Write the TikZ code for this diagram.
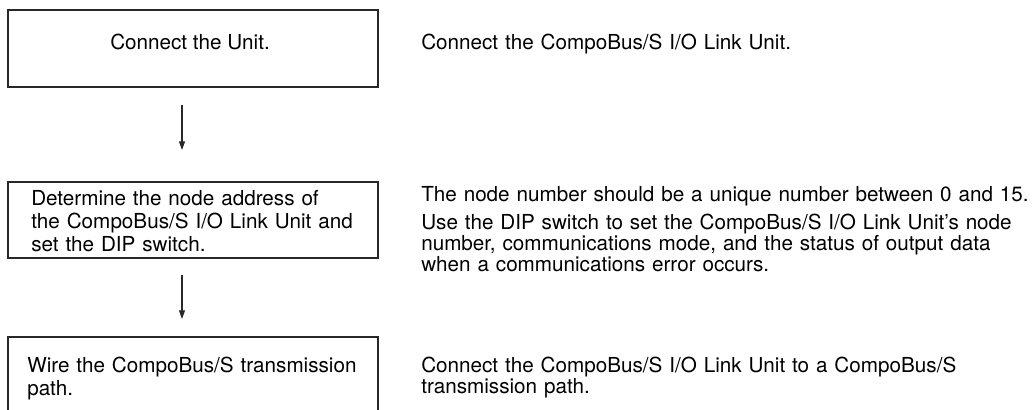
\documentclass[tikz,border=0pt]{standalone}
\usepackage{fontspec}
\setmainfont{TeX Gyre Heros}
\usetikzlibrary{arrows.meta}
\definecolor{edge}{RGB}{40,40,40}

\begin{document}
\begin{tikzpicture}[x=0.75pt,y=-0.75pt,
    box/.style={draw=edge,line width=0.8pt,anchor=north west,outer sep=0pt,inner sep=0pt,minimum width=277.5pt},
    txt/.style={anchor=base west,inner sep=0pt,align=left,font=\fontsize{15.5pt}{17.6pt}\selectfont},
    note/.style={anchor=base west,inner sep=0pt,align=left,text width=470pt,font=\fontsize{15.5pt}{15.75pt}\selectfont},
    flow/.style={draw=edge,line width=0.8pt,-{Triangle[length=6.5pt,width=4.5pt]}}]
  \useasboundingbox (0,0) rectangle (1032,410);
  % step boxes (the last one runs off the page)
  \node[box,minimum height=57.75pt] (unit) at (8,10) {};
  \node[box,minimum height=57pt] (addr) at (8,182) {};
  \node[box,minimum height=67.5pt] (wire) at (8,337) {};
  \node[txt,anchor=base] (unittxt) at (190,50) {Connect the Unit.};
  \node[txt,text width=270pt] (addrtxt) at (31,205)
    {Determine the node address of\\the CompoBus/S I/O Link Unit and\\set the DIP switch.};
  \node[txt,text width=270pt] (wiretxt) at (27,372)
    {Wire the CompoBus/S transmission\\path.};
  % arrows between the boxes
  \foreach \n/\ya/\yb in {1/105/150,2/275/319}{
    \coordinate (s\n) at (182,\ya);
    \coordinate (e\n) at (182,\yb);
    \draw[flow] (s\n) -- (e\n);
  }
  % notes on the right
  \node[note] (unitnote) at (421,50) {Connect the CompoBus/S I/O Link Unit.};
  \node[note] (rangenote) at (421,201) {The node number should be a unique number between 0 and 15.};
  \node[note] (dipnote) at (421,229)
    {Use the DIP switch to set the CompoBus/S I/O Link Unit’s node\\number, communications mode, and the status of output data\\when a communications error occurs.};
  \node[note] (wirenote) at (421,372)
    {Connect the CompoBus/S I/O Link Unit to a CompoBus/S\\transmission path.};
\end{tikzpicture}
\end{document}
